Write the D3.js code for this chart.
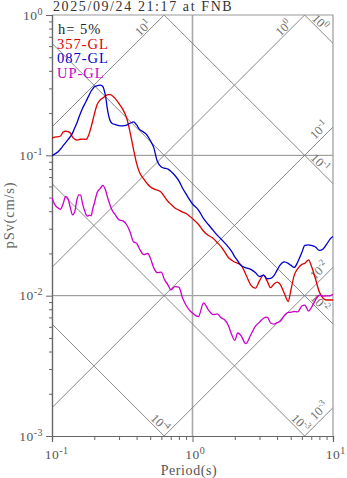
<!DOCTYPE html>
<html><head><meta charset="utf-8">
<script src="https://cdn.jsdelivr.net/npm/d3@7"></script>
<style>body{margin:0;background:#fff}svg{display:block}</style>
</head><body>
<svg id="chart" width="347" height="478"></svg>
<script>
// Natural periods (s) at which the 5%-damped spectra are sampled
const periods = [0.10,0.105,0.11,0.115,0.12,0.125,0.13,0.135,0.14,0.145,0.15,0.155,0.16,0.165,0.17,0.175,0.18,0.185,0.19,0.195,
  0.20,0.21,0.22,0.23,0.24,0.25,0.26,0.27,0.28,0.30,0.32,0.34,0.36,0.38,0.40,0.42,0.45,0.48,0.50,0.53,0.56,0.60,0.63,0.67,0.70,0.75,
  0.80,0.85,0.90,0.95,1.0,1.1,1.2,1.3,1.4,1.5,1.6,1.7,1.8,1.9,2.0,2.1,2.2,2.4,2.6,2.8,3.0,3.2,3.4,3.6,3.8,4.0,4.2,4.5,4.8,5.0,5.3,
  5.6,6.0,6.3,6.7,7.0,7.5,8.0,8.5,9.0,9.5,10.0];

// Pseudo-velocity response (cm/s) per component
const psv357 = [0.1328,0.135,0.1354,0.1372,0.1466,0.1485,0.1473,0.1442,0.135,0.1307,0.1285,0.1294,0.1302,0.1304,0.1302,0.130,0.135,0.1451,0.1594,0.1764,
  0.1957,0.2309,0.2478,0.2565,0.2646,0.2712,0.2703,0.265,0.2557,0.2336,0.2117,0.1844,0.1451,0.1109,0.0877,0.0756,0.0679,0.0622,0.0597,0.0576,
  0.0566,0.0545,0.0509,0.0469,0.0449,0.0422,0.0407,0.0394,0.0385,0.037,0.0354,0.0323,0.0288,0.0268,0.0257,0.0239,0.0223,0.0204,0.0187,0.0179,
  0.0173,0.017,0.0167,0.0141,0.0119,0.0113,0.0128,0.014,0.0127,0.0114,0.0121,0.0125,0.0121,0.0104,0.00909,0.0108,0.014,0.0155,0.0167,0.017,
  0.018,0.0164,0.0132,0.0106,0.00958,0.00931,0.00931,0.00931];
const psv087 = [0.0995,0.1025,0.1056,0.1109,0.1171,0.1232,0.1294,0.1357,0.1439,0.1565,0.169,0.1853,0.2012,0.2166,0.2298,0.243,0.2577,0.2725,0.2872,0.2973,
  0.3077,0.3139,0.3164,0.3097,0.2659,0.2031,0.1753,0.168,0.1664,0.1631,0.1623,0.1644,0.1693,0.1733,0.1647,0.153,0.1463,0.1372,0.1277,0.1135,
  0.0915,0.0826,0.0812,0.0797,0.077,0.0718,0.0657,0.0583,0.0531,0.0485,0.045,0.0409,0.0354,0.032,0.0293,0.027,0.0253,0.0237,0.0222,0.0207,
  0.0189,0.0177,0.0165,0.0158,0.0154,0.0146,0.0137,0.014,0.0132,0.0133,0.0139,0.0152,0.0165,0.0174,0.017,0.0165,0.0159,0.0173,0.0203,0.0228,
  0.023,0.0228,0.0222,0.021,0.0215,0.0232,0.0252,0.0264];
const psvUP = [0.0497,0.0443,0.0423,0.0413,0.0452,0.0509,0.049,0.0424,0.0377,0.0394,0.0476,0.0523,0.0521,0.0451,0.0408,0.0377,0.0369,0.0375,0.0371,0.0416,
  0.0454,0.0545,0.0579,0.0611,0.0569,0.0492,0.0437,0.04,0.0381,0.0347,0.0341,0.032,0.0283,0.0242,0.0236,0.0215,0.0196,0.02,0.0186,0.0158,
  0.0146,0.0147,0.0131,0.0119,0.011,0.0116,0.0115,0.00961,0.00854,0.00789,0.00751,0.00708,0.00888,0.00789,0.00733,0.00741,0.00696,0.00671,0.00612,0.00528,
  0.0048,0.00542,0.00524,0.00455,0.00527,0.00605,0.00648,0.00691,0.00704,0.00638,0.00627,0.00642,0.00655,0.00721,0.0076,0.00761,0.00773,0.00766,0.00843,0.00857,
  0.00776,0.0082,0.00931,0.01007,0.00993,0.00996,0.00996,0.01023];

const componentNames = ["357-GL", "087-GL", "UP-GL"];
const dampingText = "h= 5%";
const titleText = "2025/09/24 21:17 at FNB";

// Tripartite guide levels: acceleration (cm/s^2) and displacement (cm)
const accelLevels = [1e1, 1e0, 1e-1, 1e-2, 1e-3];
const dispLevels = [1e0, 1e-1, 1e-2, 1e-3, 1e-4];

const xMajorTicks = [0.1, 1, 10];
const yMajorTicks = [0.001, 0.01, 0.1, 1];

const colors = ["#dd0000", "#0000cc", "#cc00cc"];
const FONT = "'Liberation Serif', 'Times New Roman', serif";

const svg = d3.select("#chart");
const L = 52, R = 333, T = 15, B = 436;

const x = d3.scaleLog().domain(d3.extent(xMajorTicks)).range([L, R]);
const y = d3.scaleLog().domain(d3.extent(yMajorTicks)).range([B, T]);

const TWO_PI = 2 * Math.PI;

svg.append("defs").append("clipPath").attr("id", "plotArea")
  .append("rect").attr("x", L).attr("y", T).attr("width", R - L).attr("height", B - T);

// Minor tick positions (2..9 within each decade)
function minorTicks(lo, hi) {
  const out = [];
  for (let e = Math.round(Math.log10(lo)); e < Math.round(Math.log10(hi)); e++)
    for (let m = 2; m <= 9; m++) out.push(m * Math.pow(10, e));
  return out;
}

// Grid lines
const grid = svg.append("g").attr("stroke", "#8c8c8c").attr("stroke-width", 1);
grid.selectAll("line.h").data(yMajorTicks.filter(v => v > 0.001 && v < 1)).join("line")
  .attr("x1", L).attr("x2", R).attr("y1", d => y(d)).attr("y2", d => y(d));
grid.selectAll("line.v").data(xMajorTicks.filter(v => v > 0.1 && v < 10)).join("line")
  .attr("x1", d => x(d)).attr("x2", d => x(d)).attr("y1", T).attr("y2", B)
  .attr("stroke", "#a8a8a8").attr("stroke-width", 1.6);

// Diagonal guide lines
const diag = svg.append("g").attr("clip-path", "url(#plotArea)")
  .attr("stroke", "#7a7a7a").attr("stroke-width", 0.9).attr("fill", "none");
const [t0, t1] = x.domain();
accelLevels.forEach(a => {
  diag.append("line").attr("x1", x(t0)).attr("y1", y(a * t0 / TWO_PI))
    .attr("x2", x(t1)).attr("y2", y(a * t1 / TWO_PI));
});
dispLevels.forEach(d => {
  diag.append("line").attr("x1", x(t0)).attr("y1", y(TWO_PI * d / t0))
    .attr("x2", x(t1)).attr("y2", y(TWO_PI * d / t1));
});

// Labels for the guide lines, placed near the end where each line leaves the frame
const [svMin, svMax] = y.domain();
function powerLabel(g, v, size) {
  const e = Math.round(Math.log10(v));
  const t = g.append("text").attr("text-anchor", "middle").attr("dy", "0.35em")
    .attr("font-family", FONT).attr("font-size", size).attr("fill", "#6e6e6e");
  t.append("tspan").text("10");
  t.append("tspan").attr("dy", -size * 0.4).attr("font-size", size * 0.72).text(String(e));
}
const diagLabels = svg.append("g");
const s2 = Math.SQRT1_2;
accelLevels.forEach(a => {
  const tTop = TWO_PI * svMax / a;
  const topEnd = tTop < t1;
  const tEnd = topEnd ? tTop : t1;
  const ex = x(tEnd), ey = y(a * tEnd / TWO_PI);
  const along = topEnd ? -24 : -12, perp = topEnd ? 6 : 8;
  const cx = ex + along * s2 - perp * s2, cy = ey - along * s2 - perp * s2;
  const g = diagLabels.append("g").attr("transform", `translate(${cx},${cy}) rotate(-45)`);
  powerLabel(g, a, 12.5);
});
dispLevels.forEach(d => {
  const tBot = TWO_PI * d / svMin;
  const botEnd = tBot < t1;
  const tEnd = botEnd ? tBot : t1;
  const ex = x(tEnd), ey = y(TWO_PI * d / tEnd);
  const along = botEnd ? -12 : -24, perp = botEnd ? 6.5 : 6;
  const cx = ex + along * s2 + perp * s2, cy = ey + along * s2 - perp * s2;
  const g = diagLabels.append("g").attr("transform", `translate(${cx},${cy}) rotate(45)`);
  powerLabel(g, d, 12.5);
});

// Frame (top and right)
svg.append("path").attr("d", `M${L},${T}H${R}V${B}`).attr("fill", "none")
  .attr("stroke", "#9a9a9a").attr("stroke-width", 1.2);

// Axes
const axisColor = "#666";
const xMinorAxis = d3.axisBottom(x).tickValues(minorTicks(0.1, 10)).tickSize(4).tickFormat("");
const xMajorAxis = d3.axisBottom(x).tickValues(xMajorTicks).tickSize(6).tickFormat("");
const yMinorAxis = d3.axisLeft(y).tickValues(minorTicks(0.001, 1)).tickSize(3).tickFormat("");
const yMajorAxis = d3.axisLeft(y).tickValues(yMajorTicks).tickSize(6).tickFormat("");
[xMinorAxis, xMajorAxis].forEach(ax => {
  const g = svg.append("g").attr("transform", `translate(0,${B})`).call(ax);
  g.select(".domain").attr("stroke", axisColor).attr("stroke-width", 1.2);
  g.selectAll(".tick line").attr("stroke", axisColor);
});
[yMinorAxis, yMajorAxis].forEach(ax => {
  const g = svg.append("g").attr("transform", `translate(${L},0)`).call(ax);
  g.select(".domain").attr("stroke", axisColor).attr("stroke-width", 1.2);
  g.selectAll(".tick line").attr("stroke", axisColor);
});

// Tick labels with superscript exponents
const tickFont = 13.5;
function tickLabel(px, py, v) {
  const e = Math.round(Math.log10(v));
  const t = svg.append("text").attr("font-family", FONT).attr("font-size", tickFont).attr("fill", "#555")
    .attr("letter-spacing", 0.5).attr("x", px).attr("y", py);
  t.append("tspan").text("10");
  t.append("tspan").attr("dy", -5).attr("font-size", 10).text(String(e));
  return t;
}
xMajorTicks.forEach(v => {
  const t = tickLabel(x(v), 458.5, v);
  const base = t.select("tspan").node().getComputedTextLength();
  t.attr("x", x(v) - base / 2);
});
yMajorTicks.forEach(v => {
  const t = tickLabel(0, y(v) + 4.5, v);
  const w = t.node().getBBox().width;
  t.attr("x", 43 - w);
});

// Axis titles
svg.append("text").attr("x", 189).attr("y", 475).attr("text-anchor", "middle")
  .attr("font-family", FONT).attr("font-size", 14).attr("letter-spacing", 0.6).attr("fill", "#555").text("Period(s)");
svg.append("text").attr("transform", "translate(14,215) rotate(-90)").attr("text-anchor", "middle")
  .attr("font-family", FONT).attr("font-size", 14.5).attr("letter-spacing", 0.8).attr("fill", "#666").text("pSv(cm/s)");

// Title
svg.append("text").attr("x", 53).attr("y", 11).attr("font-family", FONT).attr("font-size", 14)
  .attr("letter-spacing", 1.6).attr("fill", "#333").text(titleText);

// Spectra
const seriesValues = [psv357, psv087, psvUP];
const lineGen = d3.line().x(d => x(d[0])).y(d => y(d[1])).curve(d3.curveMonotoneX);
const curves = svg.append("g").attr("clip-path", "url(#plotArea)");
seriesValues.forEach((vals, i) => {
  curves.append("path").datum(periods.map((p, k) => [p, vals[k]]))
    .attr("d", lineGen).attr("fill", "none").attr("stroke", colors[i]).attr("stroke-width", 1.3);
});

// Legend
const legend = svg.append("g").attr("font-family", FONT).attr("font-size", 14.5).attr("letter-spacing", 1);
legend.append("text").attr("x", 58).attr("y", 34).attr("fill", "#222").text(dampingText);
componentNames.forEach((n, i) => {
  legend.append("text").attr("x", 57).attr("y", 48.5 + i * 14.5).attr("fill", colors[i]).text(n);
});
</script>
</body></html>
